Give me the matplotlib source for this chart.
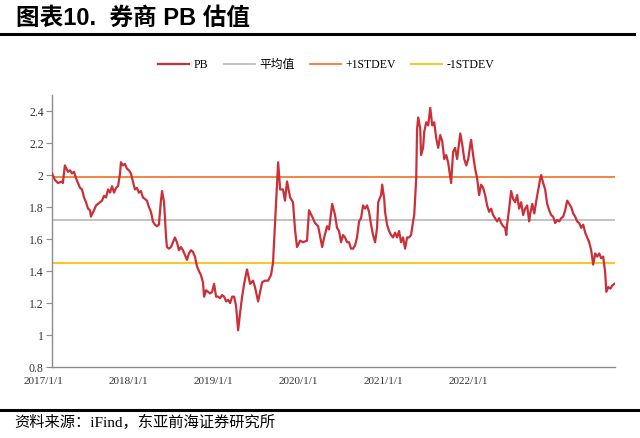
import matplotlib
matplotlib.use('Agg')
import matplotlib.pyplot as plt
import matplotlib.transforms as mtransforms

# PB series: calendar day since start of sample, value
day = [0, 10, 21, 35, 38, 45, 56, 63, 70, 77, 84, 91, 98, 105, 112, 119, 126, 133, 136, 147,
       154, 161, 168, 175, 182, 189, 196, 203, 210, 217, 224, 231, 238, 241, 248, 255, 262, 269, 276, 283,
       290, 297, 304, 311, 318, 325, 332, 339, 346, 353, 360, 367, 374, 381, 385, 392, 395, 399, 402, 409,
       416, 423, 430, 437, 444, 451, 458, 465, 472, 479, 486, 493, 500, 507, 514, 521, 528, 532, 539, 546,
       553, 560, 567, 574, 581, 588, 595, 602, 609, 616, 623, 630, 637, 644, 651, 658, 665, 672, 682, 693,
       703, 710, 721, 735, 745, 756, 766, 773, 777, 784, 791, 798, 808, 815, 822, 833, 843, 850, 857, 868,
       878, 892, 899, 910, 920, 931, 945, 952, 962, 969, 980, 990, 997, 1004, 1011, 1018, 1025, 1032, 1039, 1046,
       1053, 1060, 1067, 1074, 1081, 1088, 1095, 1102, 1109, 1116, 1123, 1130, 1137, 1141, 1151, 1155, 1162, 1165, 1172, 1179,
       1186, 1193, 1200, 1207, 1214, 1221, 1228, 1235, 1242, 1249, 1256, 1263, 1267, 1274, 1277, 1281, 1288, 1291, 1298, 1302,
       1309, 1316, 1323, 1330, 1337, 1344, 1351, 1358, 1365, 1372, 1379, 1386, 1393, 1396, 1403, 1410, 1417, 1428, 1435, 1442,
       1449, 1456, 1463, 1466, 1473, 1480, 1487, 1494, 1501, 1508, 1515, 1522, 1529, 1536, 1543, 1550, 1557, 1564, 1571, 1578,
       1585, 1589, 1592, 1599, 1606, 1613, 1620, 1627, 1634, 1641, 1648, 1655, 1662, 1669, 1673, 1680, 1687, 1694, 1701, 1708,
       1711, 1718, 1725, 1732, 1739, 1746, 1753, 1760, 1767, 1774, 1781, 1788, 1795, 1802, 1809, 1816, 1823, 1830, 1837, 1844,
       1851, 1858, 1865, 1872, 1879, 1886, 1893, 1900, 1907, 1914, 1921, 1928, 1935, 1939, 1946, 1953, 1960, 1967]
pb = [2.01, 1.97, 1.95, 1.96, 1.95, 2.06, 2.02, 2.03, 2.01, 2.02, 1.98, 1.95, 1.92, 1.91, 1.86, 1.83, 1.79, 1.78, 1.74, 1.78,
      1.81, 1.82, 1.83, 1.84, 1.87, 1.86, 1.91, 1.89, 1.93, 1.89, 1.92, 1.93, 2.01, 2.08, 2.06, 2.07, 2.04, 2.03, 2.01, 1.96,
      1.91, 1.92, 1.89, 1.90, 1.86, 1.85, 1.84, 1.80, 1.77, 1.71, 1.69, 1.68, 1.69, 1.84, 1.90, 1.83, 1.74, 1.61, 1.55, 1.54,
      1.55, 1.58, 1.61, 1.58, 1.53, 1.55, 1.53, 1.50, 1.47, 1.51, 1.53, 1.52, 1.49, 1.43, 1.40, 1.375, 1.33, 1.24, 1.28, 1.27,
      1.26, 1.27, 1.32, 1.24, 1.24, 1.23, 1.25, 1.24, 1.21, 1.22, 1.20, 1.24, 1.24, 1.18, 1.03, 1.14, 1.24, 1.32, 1.41, 1.32,
      1.34, 1.30, 1.21, 1.33, 1.34, 1.34, 1.375, 1.45, 1.59, 1.84, 2.08, 1.91, 1.91, 1.84, 1.96, 1.86, 1.83, 1.66, 1.55, 1.59,
      1.58, 1.59, 1.78, 1.74, 1.70, 1.68, 1.55, 1.61, 1.68, 1.66, 1.82, 1.75, 1.67, 1.65, 1.58, 1.625, 1.61, 1.58, 1.58, 1.54,
      1.54, 1.56, 1.61, 1.71, 1.73, 1.81, 1.79, 1.81, 1.77, 1.69, 1.625, 1.58, 1.67, 1.83, 1.875, 1.94, 1.85, 1.77, 1.69, 1.65,
      1.625, 1.61, 1.64, 1.61, 1.65, 1.58, 1.61, 1.54, 1.61, 1.61, 1.625, 1.71, 1.75, 1.98, 2.29, 2.36, 2.29, 2.125, 2.17, 2.27,
      2.33, 2.31, 2.42, 2.31, 2.33, 2.23, 2.17, 2.25, 2.21, 2.10, 2.125, 2.075, 1.99, 1.95, 2.145, 2.17, 2.10, 2.26, 2.19, 2.10,
      2.06, 2.10, 2.19, 2.22, 2.125, 2.04, 1.98, 1.875, 1.94, 1.92, 1.875, 1.81, 1.77, 1.79, 1.75, 1.73, 1.71, 1.73, 1.70, 1.68,
      1.67, 1.625, 1.69, 1.79, 1.90, 1.85, 1.83, 1.875, 1.79, 1.83, 1.75, 1.79, 1.81, 1.71, 1.76, 1.82, 1.76, 1.84, 1.91, 1.98,
      2.00, 1.95, 1.91, 1.82, 1.78, 1.75, 1.74, 1.70, 1.72, 1.71, 1.73, 1.74, 1.78, 1.84, 1.82, 1.80, 1.76, 1.74, 1.71, 1.70,
      1.67, 1.69, 1.64, 1.61, 1.58, 1.53, 1.44, 1.51, 1.49, 1.51, 1.48, 1.49, 1.39, 1.27, 1.30, 1.29, 1.31, 1.32]

pb_mean = 1.72
pb_std = 0.268

x_labels = ['2017/1/1', '2018/1/1', '2019/1/1', '2020/1/1', '2021/1/1', '2022/1/1']
x_ticks = [0, 297.5, 595, 892.5, 1190, 1487.5]
y_ticks = [0.8, 1, 1.2, 1.4, 1.6, 1.8, 2, 2.2, 2.4]
y_labels = ['0.8', '1', '1.2', '1.4', '1.6', '1.8', '2', '2.2', '2.4']

serif_cjk = ['Liberation Serif', 'Noto Sans CJK SC']

fig = plt.figure(figsize=(6.4, 4.38), dpi=100)
ax = fig.add_axes([0.08125, 0.162, 0.880, 0.621])

ax.plot(day, pb, color='#CB2F38', lw=1.6, label='PB', zorder=5)
ax.axhline(pb_mean, color='#BDBDBD', lw=1.3, label='平均值')
ax.axhline(pb_mean + pb_std, color='#F07C33', lw=1.3, label='+1STDEV')
ax.axhline(pb_mean - pb_std, color='#FDC52B', lw=1.5, label='-1STDEV')

ax.set_xlim(0, 1970)
ax.set_ylim(0.8, 2.5)
ax.set_yticks(y_ticks)
ax.set_yticklabels(y_labels, fontfamily='Liberation Serif', fontsize=8.5, color='#333333')
ax.set_xticks(x_ticks)
ax.set_xticklabels(x_labels, fontfamily='Liberation Serif', fontsize=8, color='#333333')
ax.tick_params(axis='y', length=4, width=0.8, color='#8c8c8c', pad=2)
ax.tick_params(axis='x', length=0, pad=7)
for s in ['top', 'right']:
    ax.spines[s].set_visible(False)
for s in ['left', 'bottom']:
    ax.spines[s].set_color('#8c8c8c')
    ax.spines[s].set_linewidth(1.0)

# excel-style category labels sit a little left of the tick point
offset = mtransforms.ScaledTranslation(-9 / 100, 0, fig.dpi_scale_trans)
for lab in ax.get_xticklabels():
    lab.set_transform(lab.get_transform() + offset)

fig.legend(loc='center', bbox_to_anchor=(0.51, 0.852), ncol=4, frameon=False,
           handlelength=2.6, handletextpad=0.4, columnspacing=1.3,
           prop={'family': serif_cjk, 'size': 8.5})

# title, rules and source note
fig.text(0.025, 0.958, '图表10.  券商 PB 估值', fontsize=17, fontweight='bold',
         family=['Liberation Sans', 'Noto Sans CJK SC'], va='center', ha='left')
fig.add_artist(plt.Line2D([0.0, 0.99], [0.923, 0.923], color='black', lw=2.2))
fig.add_artist(plt.Line2D([0.0, 1.0], [0.065, 0.065], color='black', lw=2.2))
fig.text(0.022, 0.036, '资料来源：iFind，东亚前海证券研究所', fontsize=11,
         family=serif_cjk, va='center', ha='left')

fig.savefig('out.png', dpi=100)
